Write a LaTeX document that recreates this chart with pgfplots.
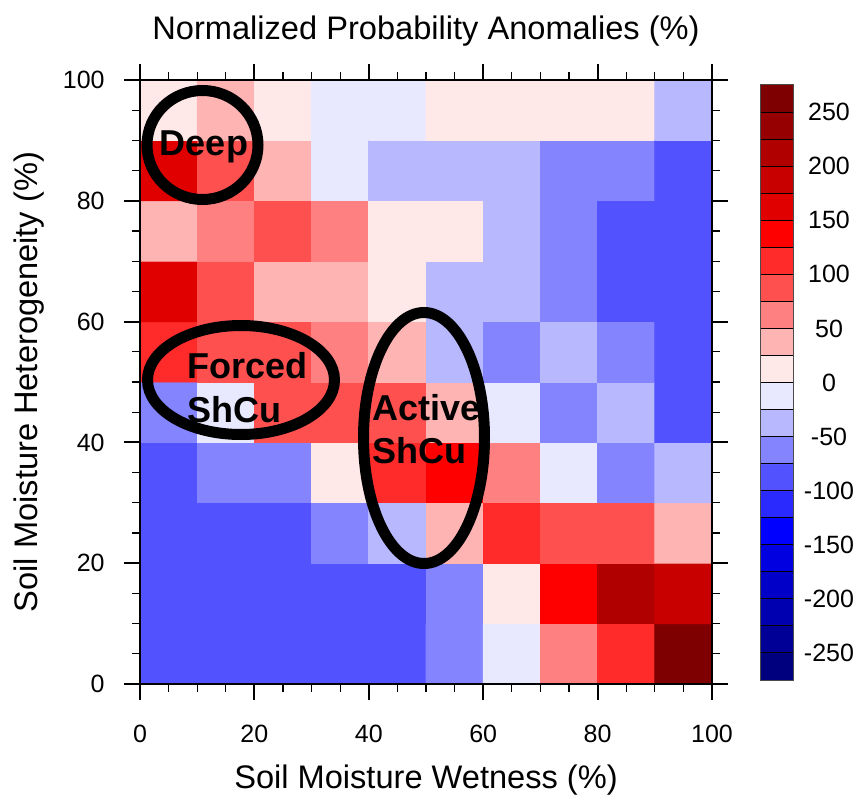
\documentclass[border=0pt]{standalone}
\usepackage{pgfplots}
\pgfplotsset{compat=1.18}
\usepackage{fontspec}
\setmainfont{Liberation Sans}
\pgfplotsset{
  colormap={ncl}{rgb255=(0,0,127) rgb255=(0,0,150) rgb255=(0,0,176) rgb255=(0,0,200) rgb255=(0,0,224) rgb255=(0,0,255) rgb255=(42,42,255) rgb255=(82,82,255) rgb255=(132,132,255) rgb255=(184,184,255) rgb255=(232,232,255) rgb255=(255,232,232) rgb255=(255,180,180) rgb255=(255,128,128) rgb255=(255,80,80) rgb255=(255,42,42) rgb255=(255,0,0) rgb255=(224,0,0) rgb255=(200,0,0) rgb255=(176,0,0) rgb255=(150,0,0) rgb255=(127,0,0)}
}
\begin{document}
\begin{tikzpicture}
\useasboundingbox (-70pt,-57.5pt) rectangle (358.5pt,342pt);
\begin{axis}[
  at={(0pt,0pt)}, anchor=south west,
  scale only axis, width=286pt, height=302pt,
  xmin=0, xmax=100, ymin=0, ymax=100,
  xtick={0,20,...,100}, ytick={0,20,...,100},
  minor x tick num=3, minor y tick num=3,
  tick align=outside, major tick length=8pt, minor tick length=4pt,
  every major tick/.append style={line width=1pt, black},
  every minor tick/.append style={line width=0.6pt, black},
  axis line style={line width=1pt},
  colormap name=ncl, colormap access=piecewise constant,
  point meta min=-275, point meta max=275,
  /pgf/number format/assume math mode=true,
  tick label style={font=\fontsize{12.5}{15}\selectfont},
  xticklabel style={anchor=north, inner sep=0pt, yshift=-12.5pt},
  yticklabel style={anchor=east, inner sep=0pt, xshift=-9.5pt},
  axis on top, clip=false,
]
\addplot[matrix plot*, mesh/cols=10, point meta=explicit] table[meta=c] {
x y c
5 5 -87
15 5 -87
25 5 -87
35 5 -87
45 5 -87
55 5 -62
65 5 -12
75 5 62
85 5 112
95 5 262
5 15 -87
15 15 -87
25 15 -87
35 15 -87
45 15 -87
55 15 -62
65 15 12
75 15 137
85 15 212
95 15 187
5 25 -87
15 25 -87
25 25 -87
35 25 -62
45 25 -37
55 25 37
65 25 112
75 25 87
85 25 87
95 25 37
5 35 -87
15 35 -62
25 35 -62
35 35 12
45 35 112
55 35 137
65 35 62
75 35 -12
85 35 -62
95 35 -37
5 45 -62
15 45 -12
25 45 87
35 45 87
45 45 87
55 45 37
65 45 -12
75 45 -62
85 45 -37
95 45 -87
5 55 112
15 55 87
25 55 87
35 55 62
45 55 37
55 55 -37
65 55 -62
75 55 -37
85 55 -62
95 55 -87
5 65 162
15 65 87
25 65 37
35 65 37
45 65 12
55 65 -37
65 65 -37
75 65 -62
85 65 -87
95 65 -87
5 75 37
15 75 62
25 75 87
35 75 62
45 75 12
55 75 12
65 75 -37
75 75 -62
85 75 -87
95 75 -87
5 85 162
15 85 87
25 85 37
35 85 -12
45 85 -37
55 85 -37
65 85 -37
75 85 -62
85 85 -62
95 85 -87
5 95 12
15 95 37
25 95 12
35 95 -12
45 95 -12
55 95 12
65 95 12
75 95 12
85 95 12
95 95 -37
};
\end{axis}
\begin{axis}[
  at={(310pt,2pt)}, anchor=south west,
  scale only axis, width=16.5pt, height=297.5pt,
  xmin=0, xmax=1, ymin=-275, ymax=275,
  xtick=\empty, ytick={-250,-200,...,250}, minor ytick={-225,-175,...,225},
  yticklabel pos=right, major tick length=0pt, minor tick length=0pt,
  ymajorgrids, yminorgrids,
  major grid style={black, line width=0.5pt}, minor grid style={black, line width=0.5pt},
  axis on top, axis line style={black!70, line width=0.5pt},
  colormap name=ncl, colormap access=piecewise constant,
  point meta min=-275, point meta max=275,
  /pgf/number format/assume math mode=true,
  yticklabel style={anchor=center, inner sep=0pt, xshift=18pt, font=\fontsize{12.5}{15}\selectfont},
]
\addplot[matrix plot*, mesh/cols=2, point meta=explicit] table[meta=c] {
x y c
0.25 -262.5 -262.5
0.75 -262.5 -262.5
0.25 -237.5 -237.5
0.75 -237.5 -237.5
0.25 -212.5 -212.5
0.75 -212.5 -212.5
0.25 -187.5 -187.5
0.75 -187.5 -187.5
0.25 -162.5 -162.5
0.75 -162.5 -162.5
0.25 -137.5 -137.5
0.75 -137.5 -137.5
0.25 -112.5 -112.5
0.75 -112.5 -112.5
0.25 -87.5 -87.5
0.75 -87.5 -87.5
0.25 -62.5 -62.5
0.75 -62.5 -62.5
0.25 -37.5 -37.5
0.75 -37.5 -37.5
0.25 -12.5 -12.5
0.75 -12.5 -12.5
0.25 12.5 12.5
0.75 12.5 12.5
0.25 37.5 37.5
0.75 37.5 37.5
0.25 62.5 62.5
0.75 62.5 62.5
0.25 87.5 87.5
0.75 87.5 87.5
0.25 112.5 112.5
0.75 112.5 112.5
0.25 137.5 137.5
0.75 137.5 137.5
0.25 162.5 162.5
0.75 162.5 162.5
0.25 187.5 187.5
0.75 187.5 187.5
0.25 212.5 212.5
0.75 212.5 212.5
0.25 237.5 237.5
0.75 237.5 237.5
0.25 262.5 262.5
0.75 262.5 262.5
};
\end{axis}
\node[anchor=base, inner sep=0pt, font=\fontsize{16.3}{19}\selectfont] at (143pt,322pt) {Normalized Probability Anomalies (\%)};
\node[anchor=base, inner sep=0pt, font=\fontsize{16.3}{19}\selectfont] at (143pt,-52.2pt) {Soil Moisture Wetness (\%)};
\node[anchor=base, inner sep=0pt, rotate=90, font=\fontsize{16.3}{19}\selectfont] at (-51pt,151pt) {Soil Moisture Heterogeneity (\%)};
\draw[line width=5.5pt] (31.25pt,269.5pt) ellipse [x radius=27.75pt, y radius=27.25pt];
\draw[line width=5.5pt] (50.5pt,152pt) ellipse [x radius=46.75pt, y radius=27.25pt];
\draw[line width=5.5pt] (142pt,123pt) ellipse [x radius=30.25pt, y radius=62.75pt];
\begin{scope}[every node/.style={inner sep=0pt, font=\bfseries\fontsize{18}{21}\selectfont}]
\node[anchor=base] at (32pt,264pt) {Deep};
\node[anchor=base west] at (23.5pt,153pt) {Forced};
\node[anchor=base west] at (23.5pt,131pt) {ShCu};
\node[anchor=base west] at (116pt,132pt) {Active};
\node[anchor=base west] at (116pt,110.5pt) {ShCu};
\end{scope}
\end{tikzpicture}
\end{document}
